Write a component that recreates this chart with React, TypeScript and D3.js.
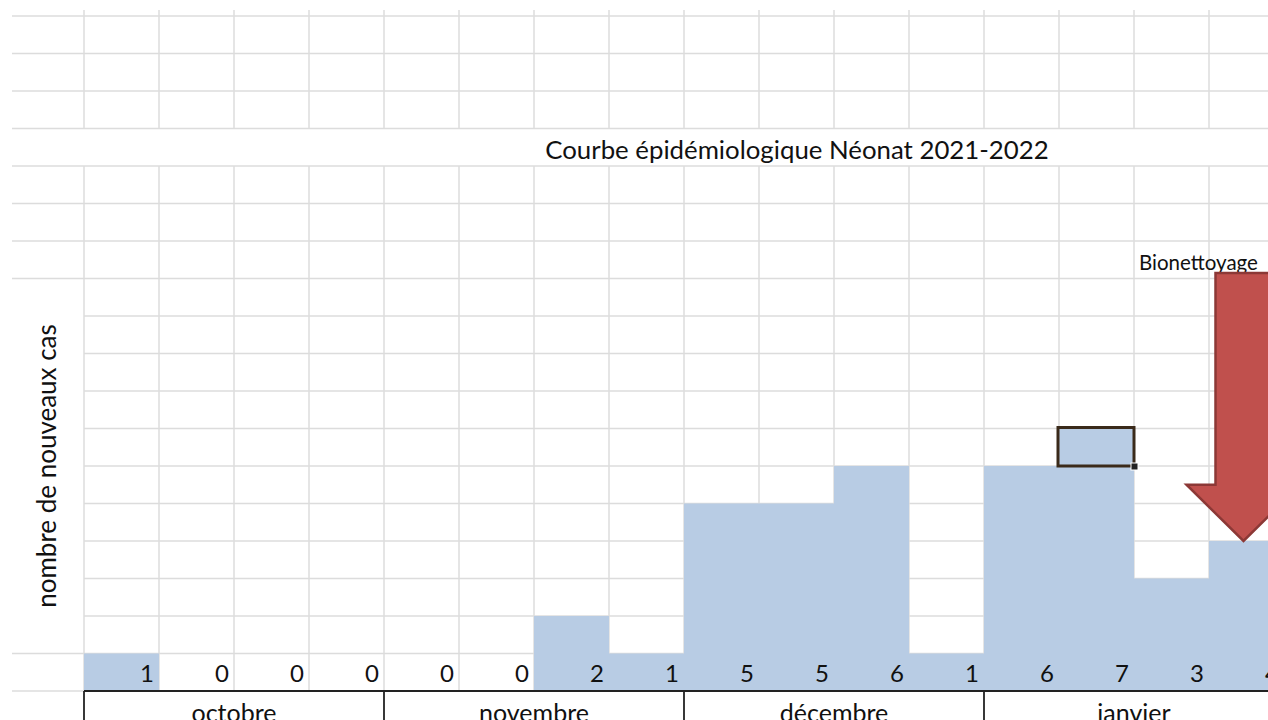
import React from 'react';
import * as d3 from 'd3';

// weekly new cases, oct 2021 -> jan 2022
const weeks = ['S40', 'S41', 'S42', 'S43', 'S44', 'S45', 'S46', 'S47', 'S48', 'S49', 'S50', 'S51', 'S52', 'S1', 'S2', 'S3'];
const cases = [1, 0, 0, 0, 0, 0, 2, 1, 5, 5, 6, 1, 6, 7, 3, 4];
const months = ['octobre', 'novembre', 'décembre', 'janvier'];
const title = 'Courbe épidémiologique Néonat 2021-2022';
const yLabel = 'nombre de nouveaux cas';
const annotation = 'Bionettoyage';

const W = 1268;
const H = 720;
const FONT = 'Lato, "Open Sans", sans-serif';

export default function App() {
  const colW = 75;
  const x = d3.scaleBand<string>()
    .domain(weeks)
    .range([84, 84 + weeks.length * colW])
    .padding(0);
  const y = d3.scaleLinear().domain([0, 18]).range([691, 16]);
  const rows = d3.range(0, 19);
  const bw = x.bandwidth();

  const gridColor = '#dcdcdc';
  const left = 12;

  // horizontal lines: label column (12..84) is merged between 278.5 and 653
  const hLines = rows.map((r) => {
    const yy = y(r);
    const inMerged = yy > y(11) + 1 && yy < y(1) - 1;
    return { yy, x1: inMerged ? 84 : left };
  });

  // vertical grid lines, skipped in the title row (units 14..15)
  const vx = d3.range(0, weeks.length + 1).map((i) => 84 + i * colW);

  const annotWeek = weeks[15];
  const tipX = (x(annotWeek) as number) + bw / 2 - 3;
  const tipY = y(cases[15]);
  const headY = y(5.5);
  const topY = y(11.15);
  const shaftHalf = 28;
  const headHalf = 57;
  const arrowPath = d3.path();
  arrowPath.moveTo(tipX - shaftHalf, topY);
  arrowPath.lineTo(tipX + shaftHalf, topY);
  arrowPath.lineTo(tipX + shaftHalf, headY);
  arrowPath.lineTo(tipX + headHalf, headY);
  arrowPath.lineTo(tipX, tipY);
  arrowPath.lineTo(tipX - headHalf, headY);
  arrowPath.lineTo(tipX - shaftHalf, headY);
  arrowPath.closePath();

  const selWeek = weeks[13];
  const selX = x(selWeek) as number;

  return (
    <svg width={W} height={H} style={{ position: 'fixed', top: 0, left: 0, background: '#fff' }}>
      {/* grid */}
      <g>
        {hLines.map((d, i) => (
          <line key={'h' + i} x1={d.x1} x2={W} y1={d.yy} y2={d.yy} stroke={gridColor} strokeWidth={1.5} />
        ))}
        {vx.map((vxx, i) => (
          <g key={'v' + i}>
            <line x1={vxx} x2={vxx} y1={10} y2={y(15)} stroke={gridColor} strokeWidth={1.5} />
            <line x1={vxx} x2={vxx} y1={y(14)} y2={y(0)} stroke={gridColor} strokeWidth={1.5} />
          </g>
        ))}
      </g>

      {/* bars (filled cells) */}
      <g>
        {cases.map((v, i) => (
          v > 0 ? (
            <rect key={i} x={x(weeks[i])} y={y(v)} width={bw} height={y(0) - y(v)} fill="#b8cce4" />
          ) : null
        ))}
      </g>

      {/* values */}
      <g fontFamily={FONT} fontSize={24} fill="#111">
        {cases.map((v, i) => (
          <text key={i} x={(x(weeks[i]) as number) + bw - 5} y={y(0) - 9} textAnchor="end">{v}</text>
        ))}
      </g>

      {/* month row */}
      <g>
        <line x1={84} x2={W} y1={y(0)} y2={y(0)} stroke="#222" strokeWidth={1.8} />
        {months.map((m, i) => {
          const x0 = x(weeks[i * 4]) as number;
          return (
            <g key={m}>
              <line x1={x0} x2={x0} y1={y(0)} y2={H} stroke="#222" strokeWidth={1.8} />
              <text x={x0 + bw * 2} y={722} textAnchor="middle" fontFamily={FONT} fontSize={25} fill="#111">{m}</text>
            </g>
          );
        })}
      </g>

      {/* title */}
      <text x={797} y={159} textAnchor="middle" fontFamily={FONT} fontSize={25.8} fill="#111">{title}</text>

      {/* y label */}
      <text transform={`translate(56,${(y(11) + y(1)) / 2}) rotate(-90)`} textAnchor="middle" fontFamily={FONT} fontSize={26} fill="#111">{yLabel}</text>

      {/* selected cell */}
      <rect x={selX - 1} y={y(7) - 1} width={bw + 1} height={y(6) - y(7) + 1} fill="none" stroke="#3a2a1a" strokeWidth={3} />
      <rect x={selX + bw - 3} y={y(6) - 3} width={7} height={7} fill="#222" stroke="#fff" strokeWidth={1} />

      {/* annotation */}
      <text x={1139} y={270} fontFamily={FONT} fontSize={20.5} fill="#111">{annotation}</text>
      <path d={arrowPath.toString()} fill="#c0504d" stroke="#8c3836" strokeWidth={2.5} strokeLinejoin="miter" />
    </svg>
  );
}
